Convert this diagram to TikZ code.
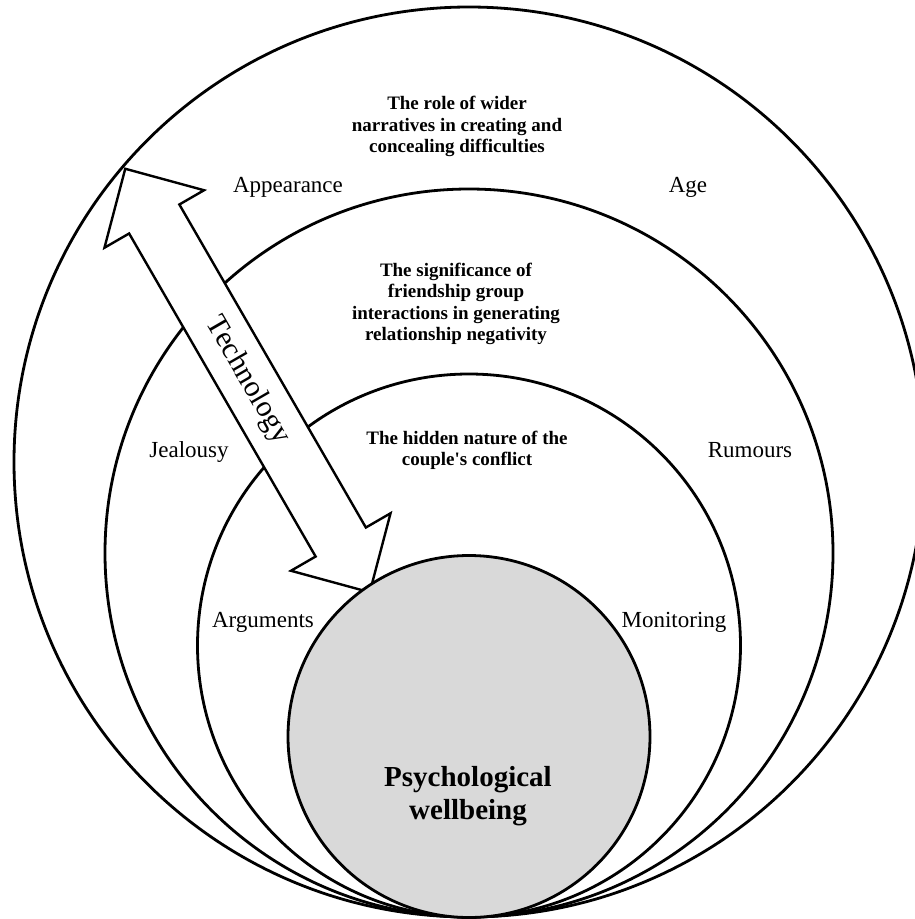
\documentclass[tikz,border=0pt]{standalone}
\usepackage{fontspec}
\setmainfont{Liberation Serif}[Ligatures=TeXOff]
\definecolor{wellgrey}{RGB}{217,217,217}
\begin{document}
\begin{tikzpicture}[x=1pt,y=-1pt,
  ring/.style={circle, draw=black, line width=2.8pt, inner sep=0pt, outer sep=0pt},
  lbl/.style={font=\fontsize{23}{27}\selectfont, inner sep=0pt, anchor=base},
  theme/.style={font=\fontsize{19}{21.5}\selectfont\bfseries, align=center, inner sep=0pt},
  arrowline/.style={draw=black, fill=white, line width=2.4pt, line join=miter},
  techlbl/.style={font=\fontsize{30}{32}\selectfont, inner sep=0pt, rotate=-60}]
\useasboundingbox (0,0) rectangle (915,919);
\clip (0,0) rectangle (915,919);
% nested circles
\node[ring, minimum size=910pt] (outer) at (469,462) {};
\node[ring, minimum size=728pt] (friends) at (469,553) {};
\node[ring, minimum size=543pt] (couple) at (469,645.5) {};
% theme texts
\node[theme] (wider) at (457,126.5) {The role of wider\\narratives in creating and\\concealing difficulties};
\node[theme] (signif) at (456,304) {The significance of\\friendship group\\interactions in generating\\relationship negativity};
\node[theme] (hidden) at (467,450.5) {The hidden nature of the\\couple's conflict};
% labels
\node[lbl] (appear) at (288,192) {Appearance};
\node[lbl] (age) at (688,192) {Age};
\node[lbl] (jeal) at (189,457) {Jealousy};
\node[lbl] (rum) at (750,457) {Rumours};
\node[lbl] (argu) at (263,627) {Arguments};
\node[lbl] (moni) at (674,627) {Monitoring};
% technology arrow
\begin{scope}[shift={(247.5,380.5)}, rotate=-60]
\draw[arrowline] (-244.5,0) -- (-186.5,57.5) -- (-186.5,29) -- (186.5,29) -- (186.5,57.5) -- (244.5,0) -- (186.5,-57.5) -- (186.5,-29) -- (-186.5,-29) -- (-186.5,-57.5) -- cycle;
\end{scope}
\node[techlbl] (tech) at (247.5,380.5) {Technology};
% centre
\node[ring, fill=wellgrey, minimum size=362pt] (well) at (469,736.5) {};
\node[font=\fontsize{29}{33}\selectfont\bfseries, align=center, inner sep=0pt] (wellt) at (468,796) {Psychological\\wellbeing};
\end{tikzpicture}
\end{document}
